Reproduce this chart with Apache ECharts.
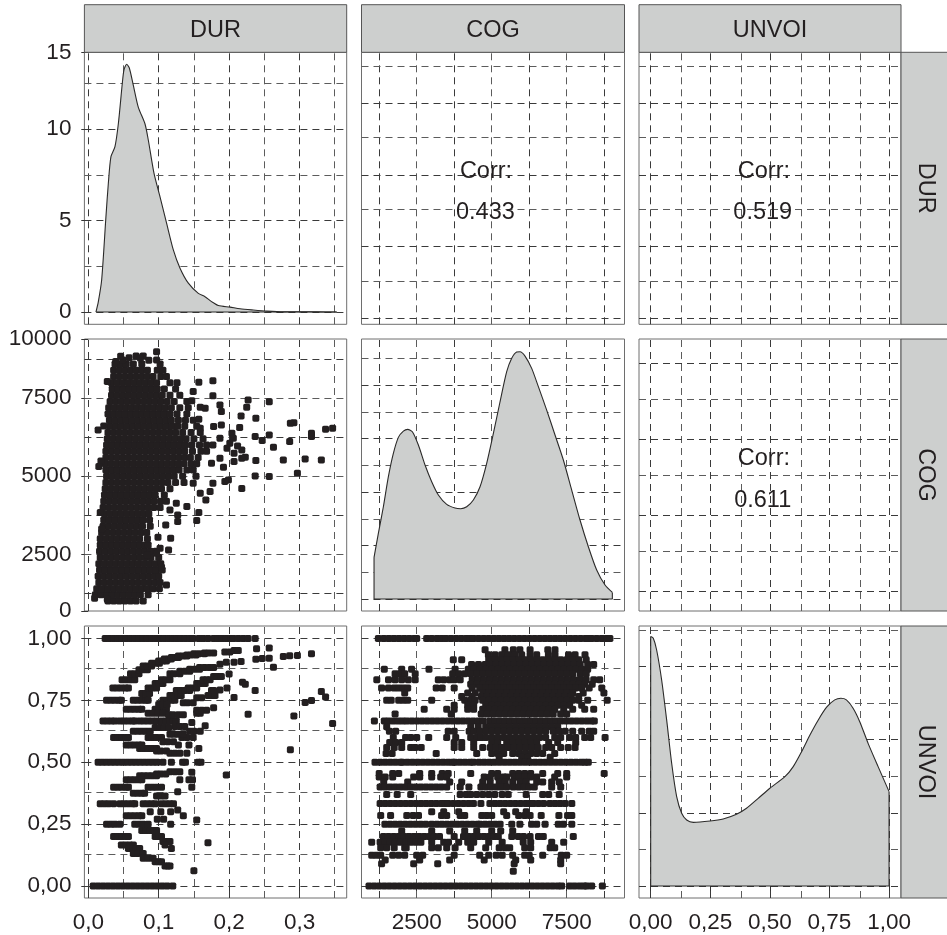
<!DOCTYPE html>
<html><head><meta charset="utf-8">
<style>html,body{margin:0;padding:0;background:#fff}#c{width:947px;height:935px}</style>
<script src="https://cdn.jsdelivr.net/npm/echarts@6/dist/echarts.min.js"></script>
</head><body><div id="c"></div>
<script>
const variables = ['DUR','COG','UNVOI'];
const corrValues = {dc:'0.433', du:'0.519', cu:'0.611'};

// tick labels
const durTickValues = [0,0.1,0.2,0.3];
const durTickLabels = ['0,0','0,1','0,2','0,3'];
const cogTickValues = [2500,5000,7500];
const cogTickLabels = ['2500','5000','7500'];
const unvoiTickValues = [0,0.25,0.5,0.75,1];
const unvoiTickLabels = ['0,00','0,25','0,50','0,75','1,00'];
const densTickValues = [0,5,10,14.21];
const densTickLabels = ['0','5','10','15'];
const cogYTickValues = [683,2500,5000,7500,9400];
const cogYTickLabels = ['0','2500','5000','7500','10000'];

// grid lines
const durGrid = [0,0.05,0.1,0.15,0.2,0.25,0.3,0.35];
const cogGrid = [1250,2500,3750,5000,6250,7500,8750];
const unvoiGrid = [0,0.125,0.25,0.375,0.5,0.625,0.75,0.875,1];
const durDensGrid = [0,2.5,5,7.5,10,12.5];
const cogDensGrid = [0,0.25,0.5,0.75,1,1.25,1.5,1.75,2,2.25];
const unvoiDensGrid = [0,0.25,0.5,0.75,1,1.25,1.5,1.75];
const corrGrid1 = [0,0.125,0.25,0.375,0.5,0.625,0.75,0.875];
const corrGrid2 = [0,0.125,0.25,0.375,0.5,0.625,0.75];

// densities
const durDensity = [[.0109,0],[.0143,.57],[.019,1.75],[.0251,5.22],[.0285,7.05],[.0322,8.5],[.0379,9.05],[.0427,10.3],[.0483,12.5],[.0507,13.25],[.0545,13.56],[.0583,13.35],[.064,12.4],[.0711,11.2],[.0805,10.3],[.0853,9.4],[.0933,7.6],[.1019,6.3],[.1113,4.85],[.1208,3.4],[.1303,2.4],[.1421,1.58],[.1563,1.02],[.1658,.84],[.1752,.57],[.1847,.36],[.2013,.27],[.2155,.18],[.2344,.11],[.2534,.05],[.277,.01],[.3007,.02],[.3243,.01],[.3527,0]];
const cogDensity = [[1078,.39],[1222,.614],[1389,.863],[1556,1.144],[1722,1.362],[1889,1.512],[2056,1.571],[2200,1.587],[2356,1.565],[2556,1.44],[2778,1.253],[3000,1.097],[3222,.973],[3500,.885],[3778,.851],[3967,.845],[4167,.863],[4389,.926],[4611,1.05],[4833,1.269],[5056,1.549],[5278,1.845],[5500,2.126],[5667,2.251],[5833,2.31],[5944,2.313],[6111,2.272],[6333,2.157],[6556,1.986],[6833,1.767],[7111,1.534],[7389,1.3],[7667,1.019],[7944,.739],[8222,.489],[8500,.271],[8778,.131],[9022,.062]];
const unvoiDensity = [[0,1.705],[.011,1.693],[.025,1.613],[.046,1.408],[.067,1.135],[.088,.839],[.109,.611],[.13,.497],[.151,.451],[.179,.435],[.249,.444],[.304,.458],[.36,.49],[.402,.531],[.451,.599],[.5,.668],[.563,.747],[.598,.816],[.633,.918],[.668,1.032],[.703,1.135],[.738,1.222],[.772,1.272],[.798,1.283],[.821,1.272],[.849,1.215],[.877,1.123],[.912,.975],[.954,.816],[1,.645]];

// DUR (thousandths) by COG rows
const durCogRows = [
[1000,28,36,44,52,60,68,78],
[1200,10,18,26,34,42,50,58,66,74,85],
[1400,12,20,28,36,44,52,60,68,76,84,92,101],
[1600,15,23,31,39,47,55,63,71,79,87,95,102],
[1800,14,22,30,38,46,54,62,70,78,86,94,100],
[2000,16,24,32,40,48,56,64,72,80,88,96,105],
[2200,15,23,31,39,47,55,63,71,79,87,95,103],
[2400,17,25,33,41,49,57,65,73,81,89,100],
[2600,16,24,32,40,48,56,64,72,80,88,96],
[2800,17,25,33,41,49,57,65,73,81,85],
[3000,17,25,33,41,49,57,65,73,84],
[3200,19,27,35,43,51,59,67,75,83],
[3400,21,29,37,45,53,61,69,77,88],
[3600,22,30,38,46,54,62,70,78,87],
[3800,23,31,39,47,55,63,71,79,86],
[4000,21,29,37,45,53,61,69,77,85,93,102],
[4200,22,30,38,46,54,62,70,78,86,94,103,111],
[4400,23,31,39,47,55,63,71,79,87,95,108],
[4600,24,32,40,48,56,64,72,80,88,96,104,116],
[4800,25,33,41,49,57,65,73,81,89,97,105,113,124,136],
[5000,26,34,42,50,58,66,74,82,90,98,106,114,122,134,153],
[5200,25,33,41,49,57,65,73,81,89,97,105,113,121,129,140,149],
[5400,24,32,40,48,56,64,72,80,88,96,104,112,120,128,136,146,154],
[5600,25,33,41,49,57,65,73,81,89,97,105,113,121,129,137,145,156],
[5800,25,33,41,49,57,65,73,81,89,97,105,113,121,129,137,148,160,168],
[6000,26,34,42,50,58,66,74,82,90,98,106,114,122,130,138,147,158,168],
[6200,27,35,43,51,59,67,75,83,91,99,107,115,123,131,139,150,163],
[6400,28,36,44,52,60,68,76,84,92,100,108,116,124,134,146,159],
[6600,31,39,47,55,63,71,79,87,95,103,111,119,127,137,154],
[6800,30,38,46,54,62,70,78,86,94,102,110,118,128,138,149],
[7000,28,36,44,52,60,68,76,84,92,100,108,116,126,140],
[7200,29,37,45,53,61,69,77,85,93,101,109,118,130,142],
[7400,31,39,47,55,63,71,79,87,95,103,112,122,140],
[7600,33,41,49,57,65,73,81,89,97,105,116,130],
[7800,34,42,50,58,66,74,82,90,98,108,124],
[8000,33,41,49,57,65,73,81,89,97,116,126],
[8200,36,44,52,60,68,76,84,92,103,111],
[8400,36,44,52,60,68,76,84,98,106],
[8600,38,46,54,64,76,102]
];
const durCogExtra = [[347,6539],[337,6507],[317,6379],[317,6272],[292,6720],[287,6699],[286,6112],[257,7393],[257,6325],[263,5930],[247,6144],[237,6272],[238,6859],[227,7447],[225,7212],[217,6934],[215,6560],[204,6379],[206,6218],[201,6058],[212,5973],[218,5845],[223,5610],[218,5578],[207,5738],[207,5471],[197,5898],[277,5524],[238,5503],[308,5556],[331,5524],[297,5097],[257,4990],[237,5012],[218,4606],[199,4883],[194,4830],[192,5289],[187,5578],[187,6218],[189,6646],[189,7073],[187,7287],[177,8066],[177,7585],[178,6592],[157,8012],[149,7714],[147,7425],[159,7212],[166,7180],[157,6827],[159,6539],[177,6005],[175,5417],[177,4777],[173,4510],[167,4243],[157,3837],[154,3580],[159,4456],[149,4777],[140,4029],[127,3548],[127,3762],[125,4136],[116,3922],[117,3014],[110,3442],[99,3046],[102,2694],[114,2641],[111,1520],[97,2534],[84,2480],[104,2085],[97,8728],[97,8995],[78,8856],[68,8856],[49,8728],[39,8675],[27,8034],[14,6485],[22,6614],[18,5492],[15,5311],[17,3837],[19,3314],[9,1092],[27,1060],[58,8800],[74,8780],[86,8720],[46,8850]];

// DUR (thousandths) by UNVOI level
const durUnvoiRows = [
[1,24,30,36,42,48,54,60,66,72,78,84,90,96,102,108,114,120,126,132,138,144,149,157,163,170,178,184,190,196,202,206,213,220,227,237],
[.833,48,54,60,66],[.857,60,66,72],[.873,72,78,84],[.889,78,84,90],[.9,90,96,101],[.909,100,106,111],[.917,108,114,118],[.923,118,124,128],[.929,128,134,140],[.933,140,146,153],[.9375,150,157,165],[.941,165,171,178],
[.75,26,32,38,44,47,64,70,76,82,85,106,112,118,123],[.778,76,82,87],[.8,35,41,47,53,57,85,91,97,142,148,154],[.818,95,100,106,154,160,166],[.833,104,110,116,163,168,173],[.857,116,122,130],[.867,130,137,144],[.875,144,151,158],[.882,158,165,172,178],
[.714,54,60,66,72,76,95,101,107,111],[.667,21,27,33,38,45,51,57,63,66,73,79,85,91,97,104,110,116,121,125],
[.698,85,92,99,106,154,159],[.733,100,106,112],[.769,116,122,128,132],[.79,125,131,137,144],[.846,178,183,189],
[.692,114,120,128,135],[.74,135,141,149],[.76,154,161],[.769,170,176,180],[.79,175,178],[.71,154,161,168],[.72,178],[.66,147],[.625,64,70,76,82,88,144,150,159],[.647,166],
[.644,123,130,137],[.64,95,102,108,114],[.6,36,42,48,54,57,85,91,97,104,133,140,149],[.613,116,122,128,135],[.583,106,113,121],[.57,54,60,66,72,76,128,143],[.556,73,79,85,91,97,157],[.545,97,103,111],[.536,116,123,130,140],
[.5,14,20,26,32,38,44,50,56,62,68,74,80,86,92,98,106,118,134,138,156,160],
[.462,116,123,130],[.453,97,103,110],[.445,73,79,85,91,97],[.429,54,60,66,72,76,130,143,148],[.46,147],[.399,36,42,48,54,57,85,91,97,104,147],[.381,127],[.375,64,70,76,80],[.364,97,103,109],
[.332,17,23,29,36,45,51,57,63,66,78,84,90,95,104,110,116,121],[.307,127],[.3,88,103,117],[.284,54,60,66,72,76,135],[.27,98,107],[.25,26,32,38,45,66,72,78,85,117],[.224,76,82,88,94,97],[.2,36,42,48,54,57,95,100,104],[.18,106,111,116],[.166,47,53,59,64,109],[.152,57,63,68,73,118],[.132,64,70,78],[.112,78,85,92],[.098,95,100,104],[.081,109,113,116],
[0,7,14,21,28,35,42,49,56,63,70,77,84,91,98,105,112,120],
[.945,194,201],[.951,207,213],[.958,239],[.961,257],[.916,238],[.919,247],[.92,257],[.927,277],[.93,286],[.931,297],[.938,317],[.883,263],[.896,187],[.904,196,207],[.907,217],[.856,200],[.823,219],[.815,223],[.79,237],[.792,187],[.8,197],[.761,207],[.694,227],[.687,292],[.741,308],[.749,317],[.786,331],[.763,337],[.656,347],[.55,287],[.449,196],[.175,170],[.062,150],[.267,154]
];

// COG by UNVOI level
const cogUnvoiRows = [
[1,1222,1400,1570,1740,1910,2080,2250,2420,2500,2833,3000,3180,3330,3470,3640,3810,3980,4150,4280,4390,4560,4730,4900,5070,5240,5410,5580,5750,5920,6090,6260,6430,6600,6770,6940,7110,7280,7450,7620,7790,7960,8130,8220,8330,8500,8670,8830,8940],
[.954,4780,5440,5720,5940,6280,6870,7110],
[.934,4890,5110,5330,5560,5780,6000,6280,6500,6890,7110,7560,7780,8110],
[.914,3720,4000,4900,5100,5300,5500,5700,5900,6100,6300,6500,6700,6900,7100,7300,7500,7700,7900,8150],
[.895,4330,4560,4780,4950,5150,5350,5550,5750,5950,6150,6350,6550,6750,6950,7150,7350,7550,7750,7950,8200,8400],
[.875,1420,2000,2330,2910,3780,4220,4400,4600,4800,5000,5200,5400,5600,5800,6000,6200,6400,6600,6800,7000,7200,7400,7600,7800,8000,8200],
[.857,1780,1950,2100,2450,3700,3900,4100,4300,4500,4700,4900,5100,5300,5500,5700,5900,6100,6300,6500,6700,6900,7100,7300,7500,7700,7950,8150],
[.833,1170,1560,1780,2000,2220,2450,3220,3400,3600,3750,3950,4350,4550,4750,4950,5150,5350,5550,5750,5950,6150,6350,6550,6750,6950,7150,7350,7550,7750,7950,8150,8400,8600],
[.815,4300,4500,4700,4900,5100,5300,5500,5700,5900,6100,6300,6500,6700,6900,7100,7300,7500,7700,7900,8100,8350],
[.8,1330,1560,1750,1900,2050,2200,3150,3350,3750,4350,4600,4800,5000,5200,5400,5600,5800,6000,6200,6400,6600,6800,7000,7200,7400,7600,7800,8000,8250,8670],
[.78,2100,4200,4450,4700,4900,5100,5300,5500,5700,5900,6100,6300,6500,6700,6900,7100,7300,7500,7700,8050,8740],
[.765,4000,4350,4650,4850,5050,5250,5450,5650,5850,6050,6250,6450,6650,6850,7050,7250,7450,7650,7900],
[.75,1500,1650,1900,2050,2200,3000,4100,4300,4450,4700,4900,5100,5300,5500,5700,5900,6100,6300,6500,6700,6900,7100,7300,7500,7700,7900,8200,8850],
[.73,3750,4200,4400,4800,5000,5200,5400,5600,5800,6000,6200,6400,6600,6800,7000,7200,7400,7600,8000],
[.714,2750,3500,3750,4200,4400,4700,4900,5100,5300,5500,5700,5900,6100,6300,6500,6700,6900,7100,7400,7700,8100,8400],
[.695,1780,3650,4650,4850,5050,5250,5450,5650,5850,6050,6250,6450,6650,6850,7050,7300,7500],
[.667,1090,1420,1560,1720,1880,2030,2170,2340,2510,2680,2850,3020,3190,3360,3530,3700,3870,4040,4210,4380,4550,4720,4940,5110,5280,5450,5620,5790,5960,6130,6300,6470,6640,6810,6980,7150,7320,7490,7660,7830,8000,8170,8330,8420],
[.643,1500,4300,4550,4800,5000,5200,5400,5600,5800,6000,6200,6400,6600,6800,7000,7200],
[.625,1590,1800,3550,3750,4250,4400,4600,4800,5000,5200,5400,5600,5800,6000,6200,6400,6600,6800,7050,7250,7450,7700,8000,8250,8400],
[.6,1720,2130,2300,2500,2900,3500,3800,4300,4500,4650,4800,5000,5200,5400,5600,5800,6000,6200,6400,6600,6800,7100,7300,7600,7800,8100,8300,8780],
[.58,1600,1800,2000,3750,4000,4400,5000,5200,5500,5700,5900,6100,6300,6500,6900,7200,7800],
[.56,1500,1750,2000,2300,2450,2650,3750,4000,4400,4700,4950,5150,5350,5550,5750,5950,6150,6350,6550,6800,7000,7300,7550,7780],
[.535,1480,1680,3150,4500,5000,5200,5400,5700,5900,6100,6300,6500,6700,7100],
[.52,5250,6000,6200,6950],
[.5,1110,1280,1450,1620,1790,1960,2020,2190,2360,2530,2700,2870,3040,3210,3380,3550,3700,3770,3940,4110,4280,4390,4580,4750,4920,5090,5260,5430,5600,5770,5940,6110,6280,6450,6620,6790,6960,7130,7300,7470,7640,7810,7980,8110,8220],
[.455,1250,1700,1900,2600,3000,3350,3550,4300,5000,5200,5700,5900,6100,6300,6700,7200,7500,8750],
[.44,1250,1450,1700,2400,2600,3000,3300,3500,4750,4950,5200,5400,5500,5750,5900,6100,6300,6500,7100,7500],
[.42,1400,2200,3600,4000,4700,4950,5250,5450,5700,5950,6150,6500,6700,7000,7250],
[.4,1280,1450,1620,1790,1960,2130,2300,2470,2640,2810,2980,3150,3320,3500,3950,4240,4640,4810,4980,5150,5320,5500,5720,5900,6080,6250,6420,7000,7300],
[.37,1500,1850,2300,3950,4150,4300,4500,4700,4900,5100,5350,5550,6150,6700,6900,7250],
[.333,1280,1450,1620,1790,1960,2130,2300,2470,2640,2810,2980,3150,3320,3440,3550,3720,3890,4060,4230,4390,4640,4940,5110,5280,5450,5620,5790,5960,6130,6280,6390,6560,6730,6940,7110,7280,7450,7670],
[.3,3000,3400,3900,5400,5800,6150],
[.285,1300,1630,2170,2380,2560,3330,3500,3950,4100,4670,4830,5000,5500,5900,6100,6280,6650,7240,7530,7670],
[.25,1440,1610,1780,1950,2120,2290,2460,2630,2800,3000,3170,3340,3510,3680,3850,4020,4190,4360,4530,4610,4780,4950,5120,5280,5670,5940,6330,6500,6780,7220,7390,7670],
[.222,2000,3000,3600,4100,4500,5000,5300,5700],
[.2,1390,1560,1730,1900,2070,2240,2410,2580,2750,2920,3090,3260,3750,4060,4230,4400,4570,4740,4910,5080,5220,5670,5890,6060,6280,6560,6720,7720],
[.177,1000,1280,1450,1620,1790,1960,2130,2300,2470,2640,3000,3400,3560,3900,4200,4400,4900,5350,6050,6300,7000,7400],
[.155,1300,1500,1750,2100,2150,3000,3220,3500,3780,4300,4800,5250,5450,5600,6100,6300,6950,7100],
[.125,1000,1150,1300,1700,1900,2100,2500,2700,3750,4600,4900,5150,5350,5700,6100,6250,6700,7320,7500],
[.105,1450,2600,3600,4750,5800,6300,7300],[.09,1330,2400,3200,5750,7300],[.06,5720],
[0,911,1080,1250,1420,1590,1760,1930,2100,2270,2440,2610,2780,2950,3120,3290,3460,3630,3800,3970,4140,4310,4480,4650,4820,4990,5160,5330,5500,5670,5840,6010,6180,6350,6520,6690,6860,7030,7200,7333,7600,7760,7930,8080,8167,8333,8689]
];

const INK = '#231f20', FILL = '#cdcfce', TXT = '#231f20', BORDER = '#6e6e6e';
const FS = 22.5, FSB = 23.5, FF = '"Liberation Sans", Arial, sans-serif';
const colX = [84.4,361.5,639], colW = [262.3,263,262];
const rowY = [52.3,339,626], rowH = 272;

const xExt = [[-0.0055,0.367],[660,9427],[-0.049,1.05]];
const yExt = [[[-0.67,14.21],[-0.022,0.9277],[-0.022,0.9277]],
              [[683,9400],[-0.112,2.432],[-0.0658,0.829]],
              [[-0.048,1.05],[-0.048,1.05],[-0.082,1.777]]];
const xGrids = [durGrid,cogGrid,unvoiGrid];
const yGrids = [[durDensGrid,corrGrid1,corrGrid1],[cogGrid,cogDensGrid,corrGrid2],[unvoiGrid,unvoiGrid,unvoiDensGrid]];

const xTicks = [[durTickValues,durTickLabels],[cogTickValues,cogTickLabels],[unvoiTickValues,unvoiTickLabels]];
const yTicks = [[densTickValues,densTickLabels],[cogYTickValues,cogYTickLabels],[unvoiTickValues,unvoiTickLabels]];

const grids=[], xAxes=[], yAxes=[], series=[];
const axisCommon = (vals,labs,margin,padding)=>({
  axisLine:{show:false}, splitLine:{show:false},
  axisTick:{show:!!vals, length:7, lineStyle:{color:'#333',width:1}, ...(vals?{customValues:vals}:{})},
  axisLabel: vals ? {show:true, customValues:vals, margin, padding, fontSize:FS, fontFamily:FF, color:TXT,
    showMinLabel:true, showMaxLabel:true,
    formatter:v=>{let i=vals.indexOf(v); if(i<0){i=vals.findIndex(u=>Math.abs(u-v)<1e-6);} return i>=0?labs[i]:'';}} : {show:false}
});
for(let r=0;r<3;r++)for(let c=0;c<3;c++){
  const i=r*3+c;
  grids.push({left:colX[c],top:rowY[r],width:colW[c],height:rowH,show:true,backgroundColor:'#fff',borderColor:BORDER,borderWidth:1,z:0});
  const xt = r===2?xTicks[c]:[null,null], yt = c===0?yTicks[r]:[null,null];
  xAxes.push({type:'value',gridIndex:i,min:xExt[c][0],max:xExt[c][1],...axisCommon(xt[0],xt[1],13,0)});
  yAxes.push({type:'value',gridIndex:i,min:yExt[r][c][0],max:yExt[r][c][1],...axisCommon(yt[0],yt[1],13,[2,0,0,0])});
  const ml=[];
  xGrids[c].forEach((v,k)=>ml.push({xAxis:v,lineStyle:{color:k%2?'#5c5c5c':'#3a3a3a'}}));
  yGrids[r][c].forEach((v,k)=>ml.push({yAxis:v,lineStyle:{color:k%2?'#5c5c5c':'#3a3a3a'}}));
  series.push({type:'line',xAxisIndex:i,yAxisIndex:i,data:[],silent:true,z:1,symbol:'none',
    markLine:{silent:true,symbol:'none',label:{show:false},animation:false,
      lineStyle:{type:[7,5],width:1},data:ml,z:1}});
}
const density=(i,data,closure)=>{
  series.push({type:'line',xAxisIndex:i,yAxisIndex:i,data,smooth:0.25,symbol:'none',z:3,silent:true,
    lineStyle:{color:'#2b2a29',width:1.1},areaStyle:{color:FILL,opacity:1}});
  series.push({type:'line',xAxisIndex:i,yAxisIndex:i,data:closure,symbol:'none',z:4,silent:true,
    lineStyle:{color:'#2b2a29',width:1.1}});
};
const first=a=>a[0], last=a=>a[a.length-1];
density(0,durDensity,[[first(durDensity)[0],0],[last(durDensity)[0],0]]);
density(4,cogDensity,[[last(cogDensity)[0],last(cogDensity)[1]],[last(cogDensity)[0],0],[first(cogDensity)[0],0],[first(cogDensity)[0],first(cogDensity)[1]]]);
density(8,unvoiDensity,[[last(unvoiDensity)[0],last(unvoiDensity)[1]],[last(unvoiDensity)[0],0],[first(unvoiDensity)[0],0],[first(unvoiDensity)[0],first(unvoiDensity)[1]]]);

const scatter=(i,data)=>series.push({type:'scatter',xAxisIndex:i,yAxisIndex:i,data,symbol:'roundRect',symbolSize:7,
  itemStyle:{color:INK,opacity:1},z:3,silent:true,large:false});
const dc=[]; durCogRows.forEach(row=>row.slice(1).forEach(d=>dc.push([d/1000,row[0]])));
durCogExtra.forEach(p=>dc.push([p[0]/1000,p[1]]));
scatter(3,dc);
const du=[]; durUnvoiRows.forEach(row=>row.slice(1).forEach(d=>du.push([d/1000,row[0]])));
scatter(6,du);
const cu=[]; cogUnvoiRows.forEach(row=>row.slice(1).forEach(v=>cu.push([v,row[0]])));
scatter(7,cu);

const note=(i,x,y,t)=>series.push({type:'scatter',xAxisIndex:i,yAxisIndex:i,data:[[x,y]],symbolSize:0,silent:true,z:6,
  label:{show:true,position:'inside',formatter:t,fontSize:FSB,fontFamily:FF,color:TXT,opacity:1,textBorderWidth:0,align:'center',verticalAlign:'middle'}});
note(1,4810,.512,'Corr:'); note(1,4790,.368,corrValues.dc);
note(2,.475,.512,'Corr:'); note(2,.47,.368,corrValues.du);
note(5,.475,.437,'Corr:'); note(5,.47,.2985,corrValues.cu);

const graphic=[];
const strip=(x,y,w,h,text,rot)=>{
  graphic.push({type:'rect',shape:{x,y,width:w,height:h},style:{fill:FILL,stroke:'#555',lineWidth:1},z:10,silent:true});
  graphic.push({type:'text',x:rot?925:x+w/2,y:rot?y+h/2:y+h/2+2,rotation:rot?-Math.PI/2:0,
    style:{text,font:FSB+'px '+FF,fill:TXT,align:'center',verticalAlign:'middle'},z:11,silent:true});
};
variables.forEach((v,k)=>{
  strip(colX[k],4.7,colW[k],47.6,v,false);
  strip(901,rowY[k],60,rowH,v,true);
});

const chart=echarts.init(document.getElementById('c'),null,{renderer:'canvas'});
chart.setOption({animation:false,backgroundColor:'#fff',grid:grids,xAxis:xAxes,yAxis:yAxes,series,graphic,tooltip:{show:false}});
</script></body></html>
